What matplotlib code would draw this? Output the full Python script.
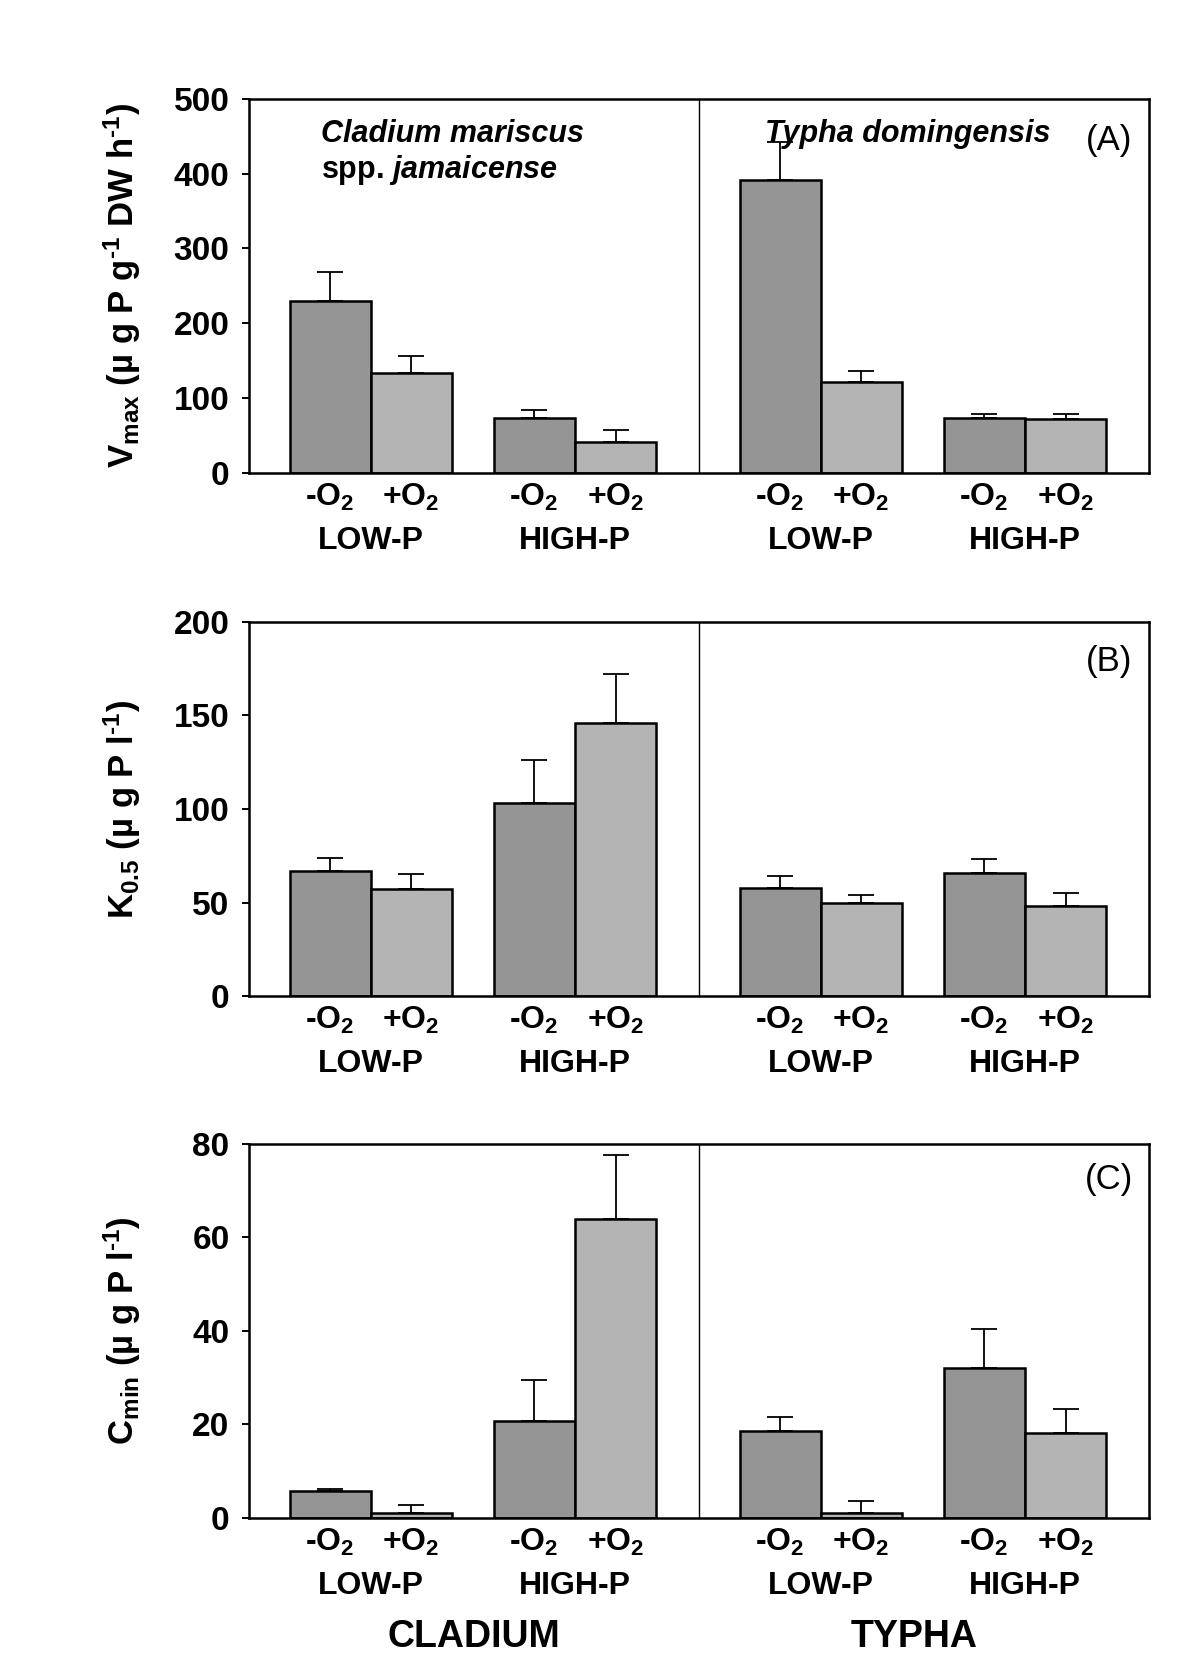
import matplotlib
matplotlib.use("Agg")
import matplotlib.pyplot as plt
import numpy as np

plt.rcParams["font.family"] = ["Liberation Sans", "DejaVu Sans"]
plt.rcParams["font.weight"] = "bold"
plt.rcParams["mathtext.fontset"] = "custom"
plt.rcParams["mathtext.rm"] = "Liberation Sans:bold"
plt.rcParams["mathtext.bf"] = "Liberation Sans:bold"
plt.rcParams["mathtext.it"] = "Liberation Sans:italic:bold"

# bar order per species: LOW-P -O2, LOW-P +O2, HIGH-P -O2, HIGH-P +O2
species = ["CLADIUM", "TYPHA"]
treatments = ["-O$_2$", "+O$_2$", "-O$_2$", "+O$_2$"]
groups = ["LOW-P", "HIGH-P"]

vmax_cladium = [230, 133, 74, 41]
vmax_cladium_err = [38, 23, 10, 17]
vmax_typha = [392, 122, 74, 72]
vmax_typha_err = [50, 14, 5, 7]

k05_cladium = [67, 57, 103, 146]
k05_cladium_err = [7, 8, 23, 26]
k05_typha = [58, 50, 66, 48]
k05_typha_err = [6, 4, 7, 7]

cmin_cladium = [5.7, 1.1, 20.7, 63.9]
cmin_cladium_err = [0.4, 1.6, 8.8, 13.8]
cmin_typha = [18.6, 1.1, 32.0, 18.2]
cmin_typha_err = [3.0, 2.5, 8.5, 5.2]

panels = [
    dict(vals=(vmax_cladium, vmax_typha), errs=(vmax_cladium_err, vmax_typha_err),
         ymax=500, step=100, tag="(A)", tag_y=0.89,
         ylabel="V$_{\\mathrm{max}}$ (\u00b5 g P g$^{\\text{-1}}$ DW h$^{\\text{-1}}$)"),
    dict(vals=(k05_cladium, k05_typha), errs=(k05_cladium_err, k05_typha_err),
         ymax=200, step=50, tag="(B)", tag_y=0.895,
         ylabel="K$_{\\mathrm{0.5}}$ (\u00b5 g P l$^{\\text{-1}}$)"),
    dict(vals=(cmin_cladium, cmin_typha), errs=(cmin_cladium_err, cmin_typha_err),
         ymax=80, step=20, tag="(C)", tag_y=0.905,
         ylabel="C$_{\\mathrm{min}}$ (\u00b5 g P l$^{\\text{-1}}$)"),
]

dark = "#959595"
light = "#b4b4b4"
colors = [dark, light, dark, light]
pos = np.array([1.0, 2.0, 3.52, 4.53])
half = 5.555
bw = 1.0

fig = plt.figure(figsize=(12, 16.67), dpi=100)
bottoms = [0.7163, 0.4025, 0.0894]

for p, b in zip(panels, bottoms):
    ax = fig.add_axes([0.2075, b, 0.75, 0.2244])
    for s in range(2):
        x = pos + s * half
        ax.bar(x, p["vals"][s], width=bw, color=colors, edgecolor="black",
               linewidth=1.8, zorder=2)
        ax.errorbar(x, p["vals"][s], yerr=[np.zeros(4), p["errs"][s]], fmt="none",
                    ecolor="black", elinewidth=1.3, capsize=9.5, capthick=1.3, zorder=3)
        for xi, t in zip(x, treatments):
            ax.text(xi, -0.066, t, transform=ax.get_xaxis_transform(),
                    ha="center", va="center", fontsize=23, fontweight="bold")
        for g, xi in zip(groups, [x[0:2].mean(), x[2:4].mean()]):
            ax.text(xi, -0.183, g, transform=ax.get_xaxis_transform(),
                    ha="center", va="center", fontsize=23, fontweight="bold")
    ax.axvline(half, color="black", linewidth=1.0)
    ax.set_xlim(0, 2 * half)
    ax.set_ylim(0, p["ymax"])
    ax.set_yticks(np.arange(0, p["ymax"] + 1, p["step"]))
    ax.set_xticks([])
    ax.tick_params(axis="y", direction="out", length=5, width=1.4, pad=9,
                   labelsize=24)
    for sp in ax.spines.values():
        sp.set_linewidth(1.8)
    ax.set_ylabel(p["ylabel"], fontsize=25, fontweight="bold")
    ax.yaxis.set_label_coords(-0.118, 0.5)
    ax.text(0.956, p["tag_y"], p["tag"], transform=ax.transAxes, ha="center",
            va="center", fontsize=25, fontweight="normal")
    last_ax = ax

axA = fig.axes[0]
axA.text(0.08, 0.905, "Cladium mariscus", transform=axA.transAxes, ha="left",
         va="center", fontsize=22, fontweight="bold", fontstyle="italic")
axA.text(0.08, 0.81, "spp. $\\mathit{jamaicense}$", transform=axA.transAxes,
         ha="left", va="center", fontsize=22, fontweight="bold")
axA.text(0.573, 0.905, "Typha domingensis", transform=axA.transAxes, ha="left",
         va="center", fontsize=22, fontweight="bold", fontstyle="italic")

for name, xc in zip(species, [half / 2, half + 2.65]):
    last_ax.text(xc, -0.318, name, transform=last_ax.get_xaxis_transform(),
                 ha="center", va="center", fontsize=27, fontweight="bold")

fig.savefig("out.png", dpi=100)
